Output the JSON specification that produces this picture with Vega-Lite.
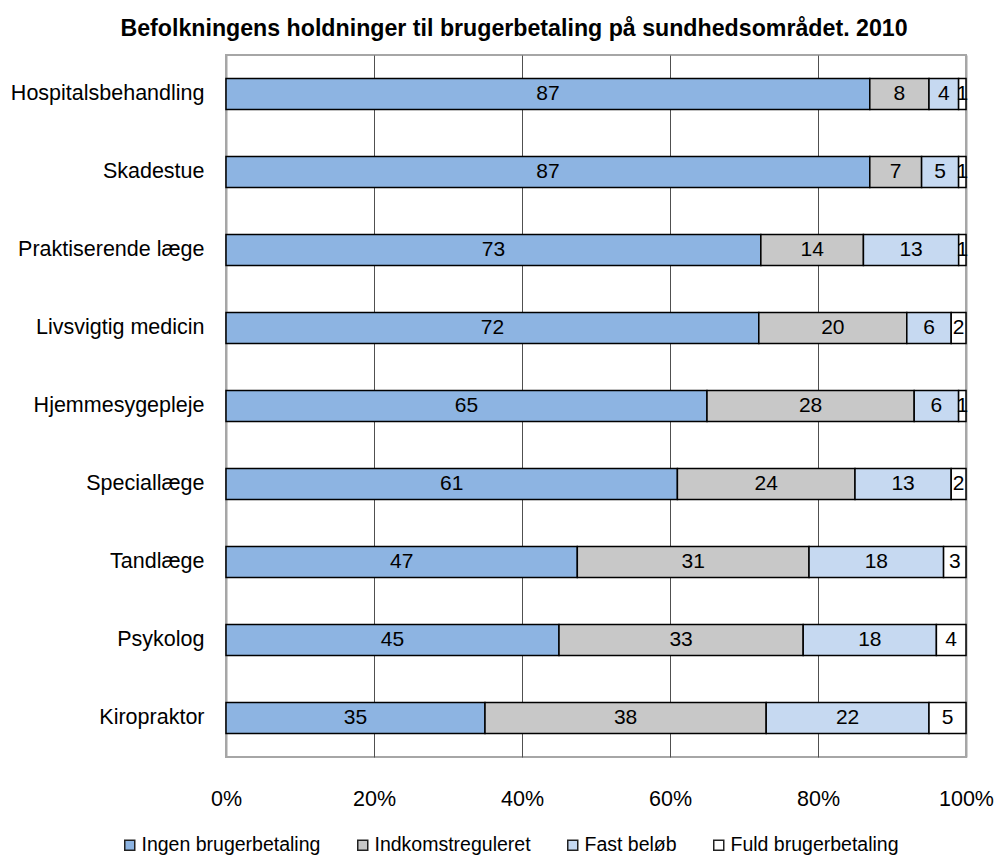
{
  "$schema": "https://vega.github.io/schema/vega-lite/v6.json",
  "width": 740,
  "height": 702,
  "autosize": {"type": "none"},
  "padding": {"left": 226, "top": 55, "right": 29, "bottom": 109},
  "background": "white",
  "title": {
    "text": "Befolkningens holdninger til brugerbetaling på sundhedsområdet. 2010",
    "anchor": "middle",
    "frame": "group",
    "dx": -82,
    "offset": 14,
    "font": "Liberation Sans",
    "fontSize": 23.2,
    "fontWeight": "bold",
    "color": "black"
  },
  "config": {
    "view": {"stroke": "#a6a6a6", "strokeWidth": 2},
    "font": "Liberation Sans"
  },
  "data": {
    "values": [
      {"item": "Hospitalsbehandling", "category": "Ingen brugerbetaling", "value": 87},
      {"item": "Hospitalsbehandling", "category": "Indkomstreguleret", "value": 8},
      {"item": "Hospitalsbehandling", "category": "Fast beløb", "value": 4},
      {"item": "Hospitalsbehandling", "category": "Fuld brugerbetaling", "value": 1},
      {"item": "Skadestue", "category": "Ingen brugerbetaling", "value": 87},
      {"item": "Skadestue", "category": "Indkomstreguleret", "value": 7},
      {"item": "Skadestue", "category": "Fast beløb", "value": 5},
      {"item": "Skadestue", "category": "Fuld brugerbetaling", "value": 1},
      {"item": "Praktiserende læge", "category": "Ingen brugerbetaling", "value": 73},
      {"item": "Praktiserende læge", "category": "Indkomstreguleret", "value": 14},
      {"item": "Praktiserende læge", "category": "Fast beløb", "value": 13},
      {"item": "Praktiserende læge", "category": "Fuld brugerbetaling", "value": 1},
      {"item": "Livsvigtig medicin", "category": "Ingen brugerbetaling", "value": 72},
      {"item": "Livsvigtig medicin", "category": "Indkomstreguleret", "value": 20},
      {"item": "Livsvigtig medicin", "category": "Fast beløb", "value": 6},
      {"item": "Livsvigtig medicin", "category": "Fuld brugerbetaling", "value": 2},
      {"item": "Hjemmesygepleje", "category": "Ingen brugerbetaling", "value": 65},
      {"item": "Hjemmesygepleje", "category": "Indkomstreguleret", "value": 28},
      {"item": "Hjemmesygepleje", "category": "Fast beløb", "value": 6},
      {"item": "Hjemmesygepleje", "category": "Fuld brugerbetaling", "value": 1},
      {"item": "Speciallæge", "category": "Ingen brugerbetaling", "value": 61},
      {"item": "Speciallæge", "category": "Indkomstreguleret", "value": 24},
      {"item": "Speciallæge", "category": "Fast beløb", "value": 13},
      {"item": "Speciallæge", "category": "Fuld brugerbetaling", "value": 2},
      {"item": "Tandlæge", "category": "Ingen brugerbetaling", "value": 47},
      {"item": "Tandlæge", "category": "Indkomstreguleret", "value": 31},
      {"item": "Tandlæge", "category": "Fast beløb", "value": 18},
      {"item": "Tandlæge", "category": "Fuld brugerbetaling", "value": 3},
      {"item": "Psykolog", "category": "Ingen brugerbetaling", "value": 45},
      {"item": "Psykolog", "category": "Indkomstreguleret", "value": 33},
      {"item": "Psykolog", "category": "Fast beløb", "value": 18},
      {"item": "Psykolog", "category": "Fuld brugerbetaling", "value": 4},
      {"item": "Kiropraktor", "category": "Ingen brugerbetaling", "value": 35},
      {"item": "Kiropraktor", "category": "Indkomstreguleret", "value": 38},
      {"item": "Kiropraktor", "category": "Fast beløb", "value": 22},
      {"item": "Kiropraktor", "category": "Fuld brugerbetaling", "value": 5}
    ]
  },
  "transform": [
    {"calculate": "indexof(['Ingen brugerbetaling','Indkomstreguleret','Fast beløb','Fuld brugerbetaling'], datum.category)", "as": "ord"}
  ],
  "encoding": {
    "y": {
      "field": "item",
      "type": "nominal",
      "sort": ["Hospitalsbehandling", "Skadestue", "Praktiserende læge", "Livsvigtig medicin", "Hjemmesygepleje", "Speciallæge", "Tandlæge", "Psykolog", "Kiropraktor"],
      "scale": {"paddingInner": 0.6, "paddingOuter": 0.3},
      "axis": {
        "title": null,
        "domain": false,
        "ticks": false,
        "labelPadding": 22,
        "labelFont": "Liberation Sans",
        "labelFontSize": 21.5,
        "labelColor": "black",
        "labelLimit": 300
      }
    },
    "order": {"field": "ord", "type": "quantitative"}
  },
  "layer": [
    {
      "mark": {"type": "bar", "stroke": "black", "strokeWidth": 1.5},
      "encoding": {
        "x": {
          "field": "value",
          "type": "quantitative",
          "stack": "normalize",
          "scale": {"domain": [0, 1], "nice": false},
          "axis": {
            "title": null,
            "format": "%",
            "values": [0, 0.2, 0.4, 0.6, 0.8, 1],
            "domain": false,
            "ticks": false,
            "labelPadding": 31,
            "labelFont": "Liberation Sans",
            "labelFontSize": 21.5,
            "labelColor": "black",
            "labelFlush": false,
            "grid": true,
            "gridColor": {"condition": {"test": "datum.value == 0 || datum.value == 1", "value": "#a6a6a6"}, "value": "#505050"},
            "gridWidth": {"condition": {"test": "datum.value == 0 || datum.value == 1", "value": 2}, "value": 1}
          }
        },
        "color": {
          "field": "category",
          "type": "nominal",
          "sort": ["Ingen brugerbetaling", "Indkomstreguleret", "Fast beløb", "Fuld brugerbetaling"],
          "scale": {
            "domain": ["Ingen brugerbetaling", "Indkomstreguleret", "Fast beløb", "Fuld brugerbetaling"],
            "range": ["#8db4e2", "#c8c8c8", "#c6d9f1", "#ffffff"]
          },
          "legend": {
            "title": null,
            "orient": "none",
            "direction": "horizontal",
            "columns": 4,
            "legendX": -106,
            "legendY": 780,
            "symbolType": "square",
            "symbolSize": 100,
            "symbolStrokeColor": "#222222",
            "symbolStrokeWidth": 1.5,
            "symbolOffset": 0,
            "labelOffset": 2,
            "labelFont": "Liberation Sans",
            "labelFontSize": 19.5,
            "labelColor": "black",
            "labelLimit": 300,
            "columnPadding": 32
          }
        }
      }
    },
    {
      "mark": {"type": "text", "font": "Liberation Sans", "fontSize": 21, "color": "black", "baseline": "middle", "align": "center"},
      "encoding": {
        "x": {"field": "value", "type": "quantitative", "stack": "normalize", "bandPosition": 0.5},
        "text": {"field": "value", "type": "quantitative"}
      }
    }
  ]
}
